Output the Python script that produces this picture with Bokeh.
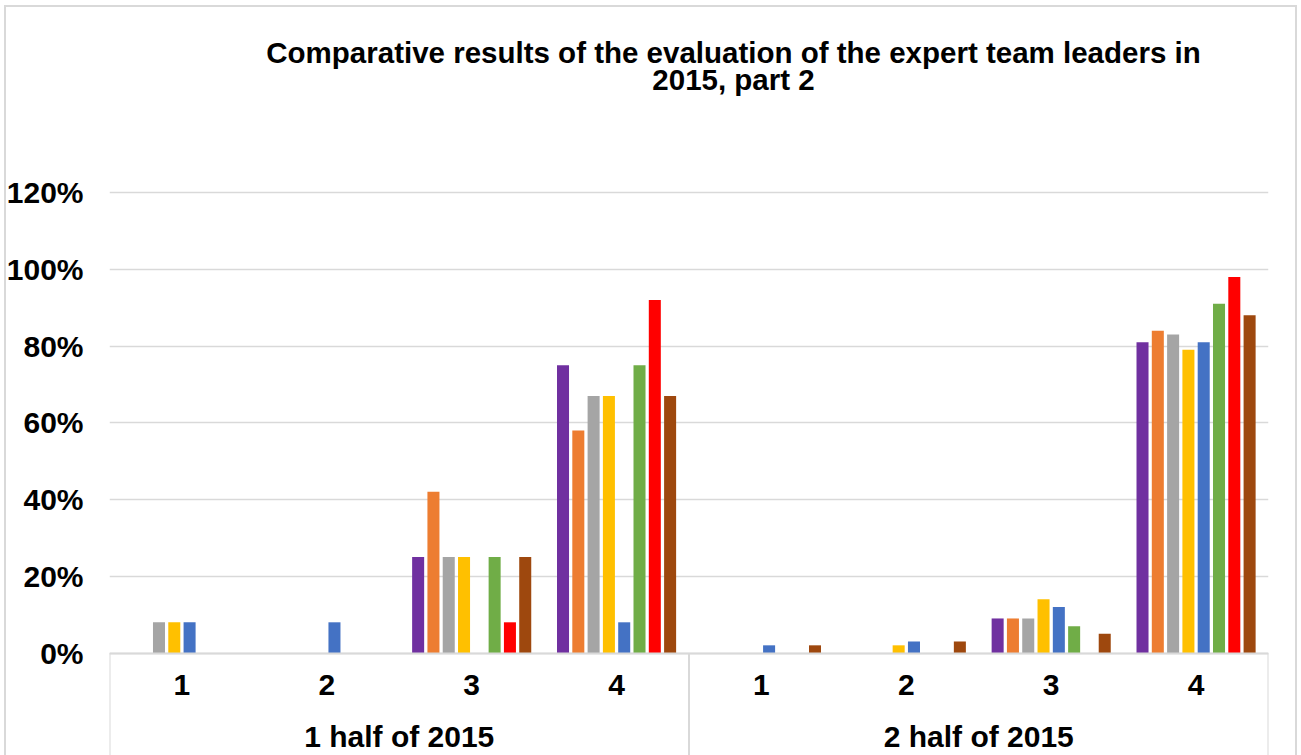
from bokeh.plotting import figure
from bokeh.models import (FactorRange, Range1d, FixedTicker, NumeralTickFormatter,
                          ColumnDataSource, Label)
from bokeh.transform import dodge
from bokeh.embed import file_html
from bokeh.resources import INLINE

# ---- data -------------------------------------------------------------
halves = ["1 half of 2015", "2 half of 2015"]
scores = ["1", "2", "3", "4"]

# share of each score (percent) per team leader, 1st half then 2nd half
leader_1 = [0, 0, 25, 75, 0, 0, 9, 81]
leader_2 = [0, 0, 42, 58, 0, 0, 9, 84]
leader_3 = [8, 0, 25, 67, 0, 0, 9, 83]
leader_4 = [8, 0, 25, 67, 0, 2, 14, 79]
leader_5 = [8, 8, 0, 8, 2, 3, 12, 81]
leader_6 = [0, 0, 25, 75, 0, 0, 7, 91]
leader_7 = [0, 0, 8, 92, 0, 0, 0, 98]
leader_8 = [0, 0, 25, 67, 2, 3, 5, 88]

y_ticks = [0, 0.2, 0.4, 0.6, 0.8, 1.0, 1.2]

series = [leader_1, leader_2, leader_3, leader_4,
          leader_5, leader_6, leader_7, leader_8]
colors = ["#7030A0", "#ED7D31", "#A5A5A5", "#FFC000",
          "#4472C4", "#70AD47", "#FF0000", "#9E480E"]

factors = [(h, s) for h in halves for s in scores]
source = ColumnDataSource(dict(
    x=factors,
    **{f"s{i}": [v / 100 for v in vals] for i, vals in enumerate(series)}
))

FONT = "Liberation Sans"
GRID = "#d9d9d9"
LABEL_SIZE = "30px"

W, H = 1301, 755
frame_left, frame_right = 109, 1268
top_grid_px, zero_px = 192, 652.5
px_per_unit = (zero_px - top_grid_px) / y_ticks[-1]
y_start = -(H - zero_px) / px_per_unit
y_end = y_ticks[-1] + top_grid_px / px_per_unit

x_range = FactorRange(*factors, factor_padding=0, group_padding=0, range_padding=0)

p = figure(
    width=W, height=H,
    x_range=x_range,
    y_range=Range1d(y_start, y_end),
    output_backend="svg", toolbar_location=None,
    min_border_left=frame_left, min_border_right=W - frame_right,
    min_border_top=0, min_border_bottom=0,
    background_fill_color=None, border_fill_color=None,
    outline_line_color=None,
    styles={
        "background": (
            "linear-gradient(#d9d9d9,#d9d9d9) 4px 5px / 2px 800px no-repeat,"
            "linear-gradient(#d9d9d9,#d9d9d9) 4px 5px / 1293px 2px no-repeat,"
            "linear-gradient(#d9d9d9,#d9d9d9) 1295px 5px / 2px 800px no-repeat"
        )
    },
)

# bars, one dodged column per leader
n = len(series)
pitch = 0.1056
bar_w = 0.083
for i, col in enumerate(colors):
    p.vbar(x=dodge("x", (i - (n - 1) / 2) * pitch, range=p.x_range),
           top=f"s{i}", width=bar_w, source=source,
           fill_color=col, line_color=None)

# category boxes under the axis
edges = [0, len(scores), len(scores) * len(halves)]
p.segment(x0=edges, y0=[0] * 3, x1=edges, y1=[y_start] * 3,
          line_color=GRID, line_width=2)

# y axis
p.yaxis.ticker = FixedTicker(ticks=y_ticks)
p.yaxis.formatter = NumeralTickFormatter(format="0%")
p.yaxis.axis_line_color = None
p.yaxis.major_tick_line_color = None
p.yaxis.minor_tick_line_color = None
p.yaxis.major_label_standoff = 20
p.yaxis.major_label_text_font = FONT
p.yaxis.major_label_text_font_style = "bold"
p.yaxis.major_label_text_font_size = LABEL_SIZE
p.yaxis.major_label_text_color = "black"

p.ygrid.ticker = FixedTicker(ticks=y_ticks)
p.ygrid.grid_line_color = GRID
p.ygrid.grid_line_width = 1.5
p.xgrid.grid_line_color = None

# x axis drawn at zero, labels inside the lower band
xa = p.xaxis[0]
xa.fixed_location = 0
xa.axis_line_color = GRID
xa.axis_line_width = 2
xa.major_tick_line_color = None
xa.minor_tick_line_color = None
xa.major_tick_in = 0
xa.major_tick_out = 0
xa.separator_line_color = None
xa.major_label_standoff = 22
xa.major_label_text_font = FONT
xa.major_label_text_font_style = "bold"
xa.major_label_text_font_size = LABEL_SIZE
xa.major_label_text_color = "black"
xa.group_text_font = FONT
xa.group_text_font_style = "bold"
xa.group_text_font_size = LABEL_SIZE
xa.group_text_color = "black"
xa.group_text_line_height = 1.5

# title, two lines
title_lines = ["Comparative results of the evaluation of the expert team leaders in",
               "2015, part 2"]
for k, line in enumerate(title_lines):
    p.add_layout(Label(
        x=733 - frame_left, y=H - (52 + 27 * k),
        x_units="screen", y_units="screen",
        text=line, text_align="center", text_baseline="middle",
        text_font=FONT, text_font_style="bold", text_font_size="29.5px",
        text_color="black",
    ))

open("out.html", "w").write(file_html(p, INLINE))
